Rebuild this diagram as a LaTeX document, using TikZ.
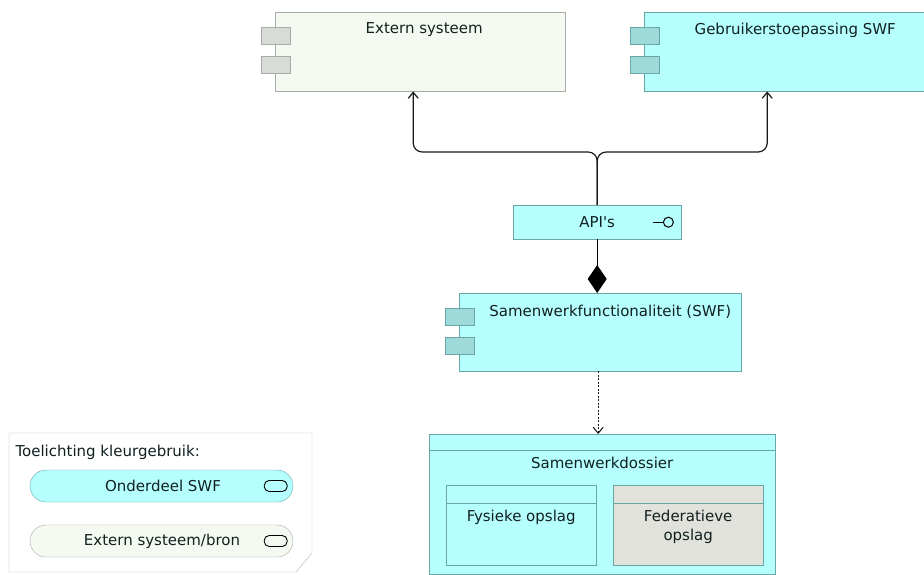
\documentclass[tikz,border=0pt]{standalone}
\usepackage{fontspec}
\setmainfont{DejaVu Sans}
\usepackage{xcolor}
\usetikzlibrary{arrows.meta,calc}

\definecolor{swffill}{HTML}{B5FFFF}
\definecolor{swfline}{HTML}{6AA6A6}
\definecolor{swfport}{HTML}{9FDADA}
\definecolor{extfill}{HTML}{F4FAF2}
\definecolor{extline}{HTML}{A6ABA6}
\definecolor{extport}{HTML}{D8DCD7}
\definecolor{fedfill}{HTML}{E1E2DC}
\definecolor{txt}{HTML}{122020}

\newcommand{\compports}[2]{%
  \draw[#2] ([xshift=-14pt,yshift=-15pt]#1.north west) rectangle ++(29,17);
  \draw[#2] ([xshift=-14pt,yshift=-44pt]#1.north west) rectangle ++(29,17);}

\begin{document}
\begin{tikzpicture}[x=1pt, y=-1pt,
    every node/.style={font=\fontsize{15}{19}\selectfont, text=txt},
    swfbox/.style={draw=swfline, fill=swffill, anchor=north west, inner sep=0pt},
    extbox/.style={draw=extline, fill=extfill, anchor=north west, inner sep=0pt},
    conn/.style={line width=1.2pt, black!90},
    tip/.style={-{Straight Barb[length=6pt,width=10pt]}}]
    \useasboundingbox (0,0) rectangle (924,574);
    \fill[white] (0,0) rectangle (924,574);
    \clip (0,0) rectangle (924,574);

    % components
    \node[extbox, minimum width=290pt, minimum height=79pt] (ext) at (275,12) {};
    \compports{ext}{draw=extline, fill=extport}
    \node (extname) at ([xshift=4pt,yshift=-18pt]ext.north) {Extern systeem};

    \node[swfbox, minimum width=302pt, minimum height=79pt] (gui) at (644,12) {};
    \compports{gui}{draw=swfline, fill=swfport}
    \node (guiname) at ([yshift=-18pt]gui.north) {Gebruikerstoepassing SWF};

    \node[swfbox, minimum width=168pt, minimum height=34pt] (api) at (513,205) {};
    \node (apiname) at (api.center) {API\textquotesingle s};
    \draw[line width=1pt] ([xshift=-28pt]api.east) -- ++(10,0) coordinate (apiring);
    \draw[line width=1pt] ([xshift=5pt]apiring) circle (5pt);

    \node[swfbox, minimum width=282pt, minimum height=78pt] (swf) at (459,293) {};
    \compports{swf}{draw=swfline, fill=swfport}
    \node (swfname) at ([xshift=10pt,yshift=-19pt]swf.north) {Samenwerkfunctionaliteit (SWF)};

    % dossier
    \node[swfbox, minimum width=346pt, minimum height=140pt] (dos) at (429,434) {};
    \draw[swfline] ([yshift=-16pt]dos.north west) -- ([yshift=-16pt]dos.north east);
    \node (dosname) at ([yshift=-29pt]dos.north) {Samenwerkdossier};
    \node[swfbox, minimum width=150pt, minimum height=80pt] (fys) at (446,485) {};
    \draw[swfline] ([yshift=-18pt]fys.north west) -- ([yshift=-18pt]fys.north east);
    \node[anchor=north, align=center] (fysname) at ([yshift=-22pt]fys.north) {Fysieke opslag};
    \node[swfbox, fill=fedfill, minimum width=150pt, minimum height=80pt] (fed) at (613,485) {};
    \draw[swfline] ([yshift=-18pt]fed.north west) -- ([yshift=-18pt]fed.north east);
    \node[anchor=north, align=center] (fedname) at ([yshift=-22pt]fed.north) {Federatieve\\opslag};

    % relations
    \draw[conn, tip, rounded corners=9pt] (api.north) -- ++(0,-53) -| ([xshift=-7pt]ext.south);
    \draw[conn, tip, rounded corners=9pt] (api.north) -- ++(0,-53) -| ([xshift=-28pt]gui.south);
    \draw[conn, black, -{Diamond[length=28pt,width=19pt]}] (api.south) -- (api.south |- swf.north);
    \draw[conn, line width=1pt, dash pattern=on 2pt off 1.5pt, tip] ([xshift=-2pt]swf.south) -- ([xshift=-2pt]swf.south |- dos.north);

    % legend
    \draw[black!30, fill=white] (9,433) -- (312,433) -- (312,553) -- (296,572) -- (9,572) -- cycle;
    \node[anchor=west] (legtitle) at (12,452) {Toelichting kleurgebruik:};
    \node[draw=swfline, fill=swffill, rounded corners=16pt, minimum width=263pt, minimum height=32pt, inner sep=0pt] (leg1) at (161.5,486) {};
    \node (leg1name) at (163,486) {Onderdeel SWF};
    \draw[line width=0.9pt, rounded corners=5pt] ([xshift=-29pt,yshift=5.5pt]leg1.east) rectangle ++(23,11);
    \node[draw=extline, fill=extfill, rounded corners=16pt, minimum width=263pt, minimum height=32pt, inner sep=0pt] (leg2) at (161.5,541) {};
    \node (leg2name) at (162,541) {Extern systeem/bron};
    \draw[line width=0.9pt, rounded corners=5pt] ([xshift=-29pt,yshift=5.5pt]leg2.east) rectangle ++(23,11);
\end{tikzpicture}
\end{document}
